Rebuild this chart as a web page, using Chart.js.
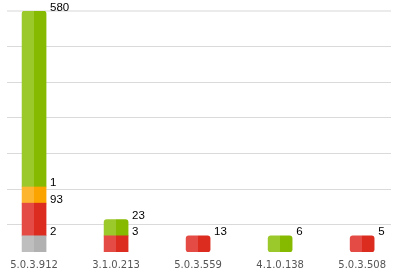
<!DOCTYPE html>
<html>
<head>
<meta charset="utf-8">
<script src="https://cdn.jsdelivr.net/npm/chart.js@4"></script>
<style>
html,body{margin:0;padding:0;background:#fff;}
#wrap{width:393px;height:272px;position:relative;}
</style>
</head>
<body>
<div id="wrap"><canvas id="c" width="393" height="272"></canvas></div>
<script>
// ---- data ----
const categories = ["5.0.3.912", "3.1.0.213", "5.0.3.559", "4.1.0.138", "5.0.3.508"];
const seriesNames = ["Gray", "Red", "Orange", "Green"];
const grayValues   = [2, 0, 0, 0, 0];
const redValues    = [93, 3, 13, 0, 5];
const orangeValues = [1, 0, 0, 0, 0];
const greenValues  = [580, 23, 0, 6, 0];

// ---- display rule of the original chart: each segment has a minimum visible length ----
const MIN_SEG = 55;   // value units
const SEG_PAD = 18;   // value units

const seriesValues = [grayValues, redValues, orangeValues, greenValues];
const colorsLight = ["#bebebe", "#e34b44", "#fdb530", "#9bc82b"];
const colorsDark  = ["#b1b1b1", "#dc2c20", "#fba400", "#85ba00"];

const bases = categories.map(() => 0);
const floating = seriesValues.map(vals => {
  const pts = [];
  vals.forEach((v, i) => {
    if (!v) return;
    const len = Math.max(v + SEG_PAD, MIN_SEG);
    pts.push({ x: i, y: [bases[i], bases[i] + len], v: v });
    bases[i] += len;
  });
  return pts;
});
const yMax = Math.max(...bases);
const GRID_STEP = 121;

function isTop(di, i) {
  for (let k = di + 1; k < seriesValues.length; k++) if (seriesValues[k][i]) return false;
  return true;
}
function isBottom(di, i) {
  for (let k = 0; k < di; k++) if (seriesValues[k][i]) return false;
  return true;
}

const BAR_W = 24;
const datasets = seriesNames.map((name, di) => ({
  label: name,
  data: floating[di],
  grouped: false,
  barThickness: BAR_W,
  borderWidth: 0,
  borderSkipped: false,
  borderRadius: (ctx) => {
    if (ctx.type !== 'data' || !ctx.raw) return 0;
    const i = ctx.raw.x;
    const t = isTop(di, i) ? 3 : 0;
    const b = (isTop(di, i) && isBottom(di, i)) ? 3 : 0;
    return { topLeft: t, topRight: t, bottomLeft: b, bottomRight: b };
  },
  backgroundColor: (ctx) => {
    const chart = ctx.chart;
    const xs = chart.scales && chart.scales.x;
    if (ctx.type !== 'data' || !xs || !ctx.raw) return colorsLight[di];
    const cx = xs.getPixelForValue(ctx.raw.x);
    if (!isFinite(cx)) return colorsLight[di];
    const g = chart.ctx.createLinearGradient(cx - BAR_W / 2, 0, cx + BAR_W / 2, 0);
    g.addColorStop(0, colorsLight[di]);
    g.addColorStop(0.5, colorsLight[di]);
    g.addColorStop(0.5, colorsDark[di]);
    g.addColorStop(1, colorsDark[di]);
    return g;
  }
}));

const valueLabels = {
  id: 'valueLabels',
  afterDatasetsDraw(chart) {
    const c = chart.ctx;
    c.save();
    c.font = '11.5px "Liberation Sans", Arial, sans-serif';
    c.fillStyle = '#000';
    c.textAlign = 'left';
    c.textBaseline = 'alphabetic';
    chart.data.datasets.forEach((ds, di) => {
      const meta = chart.getDatasetMeta(di);
      meta.data.forEach((el, j) => {
        const pt = ds.data[j];
        if (!pt || !el) return;
        const top = Math.min(el.y, el.base);
        c.fillText(String(pt.v), el.x + el.width / 2 + 4, top - 0.5);
      });
    });
    c.restore();
  }
};

new Chart(document.getElementById('c'), {
  type: 'bar',
  data: { datasets },
  options: {
    responsive: false,
    animation: false,
    layout: { padding: { left: 7, right: 0, top: 11, bottom: 0 } },
    plugins: { legend: { display: false }, tooltip: { enabled: false } },
    scales: {
      x: {
        type: 'linear',
        offset: false,
        min: -0.33,
        max: 4.352,
        grid: { display: false, drawTicks: false, offset: false },
        border: { display: false },
        afterBuildTicks: (s) => { s.ticks = categories.map((c, i) => ({ value: i })); },
        afterFit: (s) => { s.height = 20; },
        ticks: {
          autoSkip: false,
          maxRotation: 0,
          padding: 7,
          color: '#555',
          font: { family: '"DejaVu Sans", Verdana, sans-serif', size: 10 },
          callback: (v) => categories[v]
        }
      },
      y: {
        type: 'linear',
        min: 0,
        max: yMax,
        border: { display: false },
        afterBuildTicks: (s) => {
          const t = [];
          for (let v = yMax; v >= 0; v -= GRID_STEP) t.unshift({ value: v });
          s.ticks = t;
        },
        ticks: { display: false },
        grid: {
          drawTicks: false,
          color: (ctx) => ctx.tick && ctx.tick.value === yMax ? '#ebebeb' : '#dadada',
          lineWidth: (ctx) => ctx.tick && ctx.tick.value === yMax ? 2 : 1
        }
      }
    }
  },
  plugins: [valueLabels]
});
</script>
</body>
</html>
